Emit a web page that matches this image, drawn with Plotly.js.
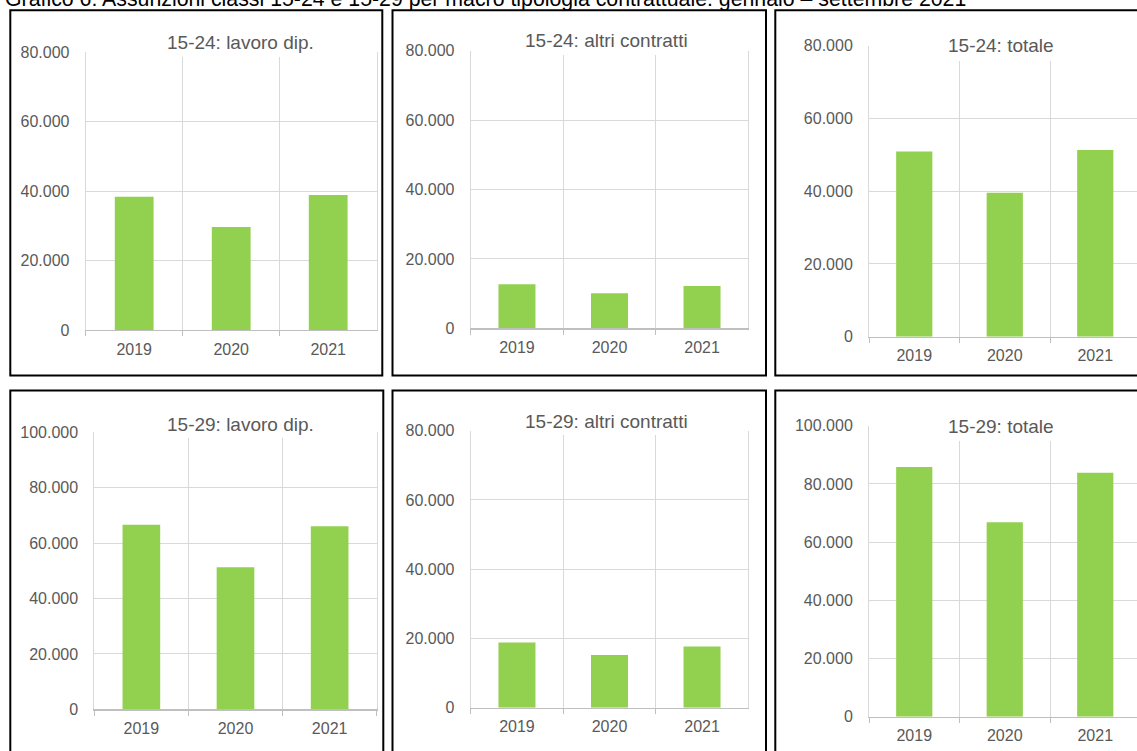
<!DOCTYPE html>
<html>
<head>
<meta charset="utf-8">
<script src="https://cdn.plot.ly/plotly-3.0.1.min.js"></script>
<style>
  html, body { margin: 0; padding: 0; overflow: hidden; background: #ffffff; }
  #chart { width: 1137px; height: 751px; }
</style>
</head>
<body>
<div id="chart"></div>
<script>
// Assunzioni per anno (gennaio – settembre), classi 15-24 e 15-29
const years = ['2019', '2020', '2021'];
const lavoro1524 = [38400, 29700, 38900];
const altri1524 = [12700, 10100, 12200];
const totale1524 = [50900, 39600, 51300];
const lavoro1529 = [66600, 51300, 66100];
const altri1529 = [18800, 15200, 17700];
const totale1529 = [85800, 66800, 83800];
const panelTitles = [
  '15-24: lavoro dip.', '15-24: altri contratti', '15-24: totale',
  '15-29: lavoro dip.', '15-29: altri contratti', '15-29: totale'
];
const yMax = [80000, 80000, 80000, 100000, 80000, 100000];
const yStep = 20000;
const mainTitle = 'Grafico 6: Assunzioni classi 15-24 e 15-29 per macro tipologia contrattuale: gennaio – settembre 2021';

const series = [lavoro1524, altri1524, totale1524, lavoro1529, altri1529, totale1529];

// Page geometry in pixels: outer frame, plot area, title position and its white backing box
const W = 1137, H = 751;
const panels = [
  { frame: [10.3, 10.3, 382.3, 375.5], plot: [85.7, 52.3, 376.7, 330.0], title: [240, 43.0], box: [158, 29, 322, 57] },
  { frame: [392.5, 10.3, 766.0, 375.5], plot: [470.7, 50.7, 748.3, 328.3], title: [606, 40.7], box: [515.7, 27, 694.3, 55] },
  { frame: [775.3, 10.3, 1160, 375.5], plot: [869.0, 45.7, 1140.5, 336.7], title: [1001, 45.7], box: [935, 31, 1060, 61] },
  { frame: [10.3, 390.5, 383.3, 780], plot: [94.3, 432.3, 376.7, 709.3], title: [240, 424.3], box: [158, 411, 322, 437.7] },
  { frame: [392.5, 390.5, 766.0, 780], plot: [470.7, 430.7, 748.3, 707.7], title: [606, 421.0], box: [515.7, 407, 694.3, 435] },
  { frame: [775.3, 390.5, 1160, 780], plot: [869.0, 425.7, 1140.5, 716.7], title: [1001, 426.7], box: [939, 412, 1060, 441] }
];

const px = x => x / W;
const py = y => 1 - y / H;

const FONT = 'Liberation Sans, Arial, sans-serif';
const GRID = '#d9d9d9';
const AXIS = '#bfbfbf';
const LABEL = '#595959';

const data = [];
const layout = {
  width: W, height: H,
  margin: { l: 0, r: 0, t: 0, b: 0, pad: 0 },
  paper_bgcolor: '#ffffff',
  plot_bgcolor: '#ffffff',
  showlegend: false,
  separators: ',.',
  font: { family: FONT, color: LABEL },
  shapes: [],
  annotations: []
};

panels.forEach((p, i) => {
  const n = i + 1;
  const sfx = n === 1 ? '' : String(n);
  const [l, t, r, b] = p.plot;
  const cut = r > W;
  const right = cut ? W : r;
  const xMax = -0.5 + 3 * (right - l) / (r - l);

  data.push({
    type: 'bar',
    x: years,
    y: series[i],
    xaxis: 'x' + sfx,
    yaxis: 'y' + sfx,
    width: 0.4,
    marker: { color: '#92d050', line: { width: 0 } },
    hoverinfo: 'x+y'
  });

  layout['xaxis' + sfx] = {
    domain: [px(l), px(right)],
    anchor: 'y' + sfx,
    type: 'category',
    range: [-0.5, xMax],
    tickson: 'boundaries',
    showgrid: true, gridcolor: GRID, gridwidth: 1,
    ticks: 'outside', ticklen: 5, tickcolor: AXIS, tickwidth: 1,
    showline: true, linecolor: AXIS, linewidth: 1.3,
    zeroline: false,
    tickfont: { family: FONT, size: 16, color: LABEL },
    ticklabelstandoff: 4,
    fixedrange: true
  };

  layout['yaxis' + sfx] = {
    domain: [py(b), py(t)],
    anchor: 'x' + sfx,
    range: [0, yMax[i]],
    dtick: yStep, tick0: 0,
    tickformat: ',d',
    showgrid: true, gridcolor: GRID, gridwidth: 1,
    showline: true, linecolor: GRID, linewidth: 1,
    mirror: !cut,
    zeroline: false,
    ticks: '',
    tickfont: { family: FONT, size: 16, color: LABEL },
    ticklabelstandoff: 12,
    fixedrange: true
  };

  // outer frame of the panel
  layout.shapes.push({
    type: 'rect', xref: 'paper', yref: 'paper',
    x0: px(p.frame[0]), x1: px(p.frame[2]), y0: py(p.frame[3]), y1: py(p.frame[1]),
    line: { color: '#000000', width: 2 }, fillcolor: 'rgba(0,0,0,0)', layer: 'above'
  });
  // white backing behind the panel title
  layout.shapes.push({
    type: 'rect', xref: 'paper', yref: 'paper',
    x0: px(p.box[0]), x1: px(p.box[2]), y0: py(p.box[3]), y1: py(p.box[1]),
    line: { width: 0 }, fillcolor: '#ffffff', layer: 'above'
  });
  layout.annotations.push({
    xref: 'paper', yref: 'paper',
    x: px(p.title[0]), y: py(p.title[1]),
    xanchor: 'center', yanchor: 'middle',
    text: panelTitles[i], showarrow: false,
    font: { family: FONT, size: 19, color: LABEL }
  });
});

layout.annotations.push({
  xref: 'paper', yref: 'paper',
  x: px(3), y: py(-1.2),
  xanchor: 'left', yanchor: 'middle',
  text: mainTitle, showarrow: false,
  font: { family: FONT, size: 21.3, color: '#000000' }
});

Plotly.newPlot('chart', data, layout, { staticPlot: true, displayModeBar: false });
</script>
</body>
</html>
